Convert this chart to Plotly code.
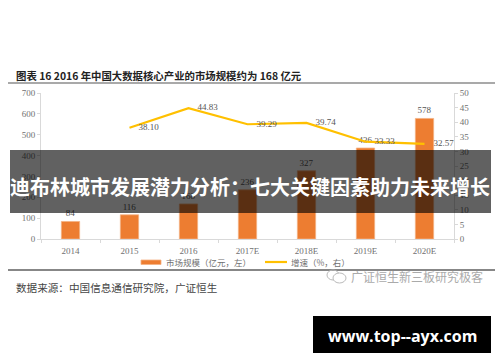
import plotly.graph_objects as go

categories = ["2014", "2015", "2016", "2017E", "2018E", "2019E", "2020E"]
market_size = [84, 116, 168, 236, 327, 436, 578]
growth_x = ["2015", "2016", "2017E", "2018E", "2019E", "2020E"]
growth = [38.10, 44.83, 39.29, 39.74, 33.33, 32.57]
growth_labels = ["38.10", "44.83", "39.29", "39.74", "33.33", "32.57"]
title_text = "图表 16 2016 年中国大数据核心产业的市场规模约为 168 亿元"
source_text = "数据来源：中国信息通信研究院，广证恒生"
headline = "迪布林城市发展潜力分析：七大关键因素助力未来增长"
url_text = "www.top--ayx.com"
watermark = "广证恒生新三板研究极客"
bar_name = "市场规模（亿元，左）"
line_name = "增速（%，右）"

W, H = 500, 362
L, R, T, B = 41, 46, 93, 123
PW, PH = W - L - R, H - T - B
SERIF = "Liberation Serif, Noto Sans CJK SC"
SANS = "Noto Sans CJK SC, Noto Sans"
GREY = "#707070"


def px(x):
    return (x - L) / PW


def py(y):
    return 1 - (y - T) / PH


def note(text, x, y, size, color, family=SANS, anchor="left"):
    return dict(text=text, xref="paper", yref="paper", x=px(x), y=py(y), xanchor=anchor,
                yanchor="middle", showarrow=False, font=dict(size=size, color=color, family=family))


fig = go.Figure()
fig.add_bar(
    x=categories, y=market_size, name=bar_name,
    marker=dict(color="#ED7D31", line=dict(color="#F4B183", width=0.8)),
    width=0.31, text=market_size, textposition="outside", cliponaxis=False,
    textfont=dict(size=9, color="#555555", family=SERIF),
)
fig.add_scatter(
    x=growth_x, y=growth, yaxis="y2", name=line_name, mode="lines+text",
    line=dict(color="#FFC000", width=2.2), text=["    " + t for t in growth_labels],
    textposition="middle right", textfont=dict(size=9, color="#555555", family=SERIF),
)

axis_font = dict(size=9, color=GREY, family=SERIF)
fig.update_layout(
    width=W, height=H, autosize=False, showlegend=False,
    margin=dict(l=L, r=R, t=T, b=B),
    paper_bgcolor="white", plot_bgcolor="white",
    font=dict(family=SANS, size=9, color=GREY),
    xaxis=dict(
        categoryorder="array", categoryarray=categories, tickson="boundaries",
        ticks="outside", ticklen=3, tickcolor="#D9D9D9", linecolor="#D9D9D9",
        linewidth=1, showline=True, showgrid=False, tickfont=axis_font, ticklabelstandoff=3,
    ),
    yaxis=dict(
        range=[0, 700], dtick=100, ticks="outside", ticklen=3, tickcolor="#D9D9D9",
        linecolor="#D9D9D9", showline=True, showgrid=False, zeroline=False, tickfont=axis_font,
    ),
    yaxis2=dict(
        range=[0, 50], dtick=5, overlaying="y", side="right", ticks="outside", ticklen=3,
        tickcolor="#D9D9D9", linecolor="#D9D9D9", showline=True, showgrid=False,
        zeroline=False, tickfont=axis_font,
    ),
    shapes=[
        dict(type="line", xref="paper", yref="paper", x0=px(8), x1=px(495), y0=py(83), y1=py(83),
             line=dict(color="#555555", width=1.2)),
        dict(type="line", xref="paper", yref="paper", x0=px(8), x1=px(495), y0=py(270), y1=py(270),
             line=dict(color="#111111", width=1.2)),
        dict(type="rect", xref="paper", yref="paper", x0=px(141), x1=px(161), y0=py(260), y1=py(264.5),
             fillcolor="#ED7D31", line=dict(color="#F4B183", width=0.8)),
        dict(type="line", xref="paper", yref="paper", x0=px(265), x1=px(287), y0=py(262), y1=py(262),
             line=dict(color="#FFC000", width=2.2)),
        dict(type="rect", xref="paper", yref="paper", x0=px(10), x1=px(491), y0=py(150), y1=py(213),
             fillcolor="rgba(0,0,0,0.62)", line=dict(width=0), layer="above"),
        dict(type="rect", xref="paper", yref="paper", x0=px(313), x1=px(491), y0=py(316), y1=py(353),
             fillcolor="#000000", line=dict(width=0), layer="above"),
        dict(type="circle", xref="paper", yref="paper", x0=px(327), x1=px(339), y0=py(270), y1=py(280),
             line=dict(color="#BBBBBB", width=1)),
        dict(type="circle", xref="paper", yref="paper", x0=px(333), x1=px(346), y0=py(273), y1=py(283),
             fillcolor="white", line=dict(color="#BBBBBB", width=1)),
    ],
    annotations=[
        note("<b>" + title_text + "</b>", 14, 75, 10.4, "#222222"),
        note(source_text, 14, 287, 10.6, "#444444"),
        note(watermark, 349, 276, 12, "#AAAAAA"),
        note(bar_name, 164, 262, 8.5, GREY),
        note(line_name, 289, 262, 8.5, GREY),
        note("<b>" + headline + "</b>", 250, 186, 20, "white", anchor="center"),
        note("<b>" + url_text + "</b>", 402, 336, 16, "white", family="Open Sans", anchor="center"),
    ],
)

fig.write_html("out.html", post_script="document.body.style.margin='0';",
               config=dict(displayModeBar=False))
